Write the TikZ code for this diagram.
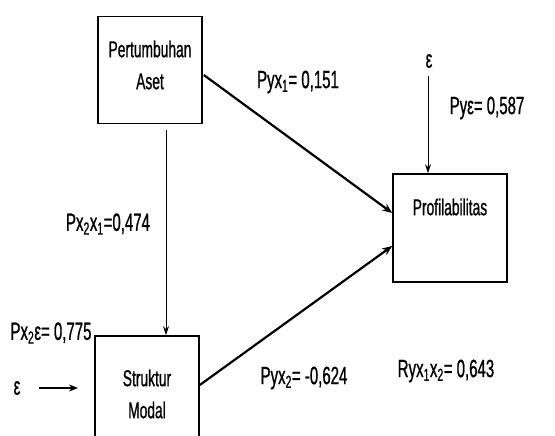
\documentclass[tikz,border=0pt]{standalone}
\usepackage{fontspec}
\setmainfont{Liberation Sans}[FakeStretch=0.6,FakeBold=0.8]
\newfontfamily\lblfont{Liberation Sans}[FakeStretch=0.6,FakeBold=0.8]
\usetikzlibrary{arrows.meta,calc}
\begin{document}
\begin{tikzpicture}[x=1pt,y=-1pt,
  box/.style={draw,line width=1.6pt,minimum width=104pt,minimum height=107pt,inner sep=0pt},
  txt/.style={font=\fontsize{23}{25}\selectfont,inner sep=0pt,align=center},
  lbl/.style={font=\lblfont\fontsize{25}{28}\selectfont,inner sep=0pt},
  thickarrow/.style={line width=2.2pt,-{Stealth[length=10pt,width=8pt]}},
  thinarrow/.style={line width=0.9pt,-{Stealth[length=9pt,width=6pt]}}]
\useasboundingbox (0,0) rectangle (555,436);
% boxes
\node[box] (A) at (150,70) {};
\node[box,minimum width=114pt,minimum height=108pt] (P) at (450,228) {};
\node[box,minimum height=106pt] (S) at (147,389) {};
% box texts
\node[txt] (At) at (150,65) {Pertumbuhan\\[7pt]Aset};
\node[txt] (Pt) at (450,207) {Profilabilitas};
\node[txt] (St) at (147,394) {Struktur\\[7pt]Modal};
% epsilons
\node[lbl] (e1) at (429,61) {ε};
\node[lbl] (e2) at (17,388) {ε};
\coordinate (e2end) at (78,388);
\coordinate (v1) at (166,130);
\coordinate (v2) at (428,76);
% connectors
\draw[thickarrow] ($(A.east)+(1,5)$) -- ($(P.west)+(0,-15)$);
\draw[thickarrow] ($(S.east)+(0,-4)$) -- ($(P.west)+(0,18)$);
\draw[thinarrow] (v1) -- (v1 |- S.north);
\draw[thinarrow] (v2) -- (v2 |- P.north);
\draw[line width=1.8pt,-{Stealth[length=9pt,width=7pt]}] ($(e2.east)+(18,0)$) -- (e2end);
% labels
\node[lbl] (l1) at (298,82) {Pyx\textsubscript{1}= 0,151};
\node[lbl] (l2) at (487,108) {Pyε= 0,587};
\node[lbl] (l3) at (108,224) {Px\textsubscript{2}x\textsubscript{1}=0,474};
\node[lbl] (l4) at (51,333) {Px\textsubscript{2}ε= 0,775};
\node[lbl] (l5) at (304,378) {Pyx\textsubscript{2}= -0,624};
\node[lbl] (l6) at (446,371) {Ryx\textsubscript{1}x\textsubscript{2}= 0,643};
\end{tikzpicture}
\end{document}
